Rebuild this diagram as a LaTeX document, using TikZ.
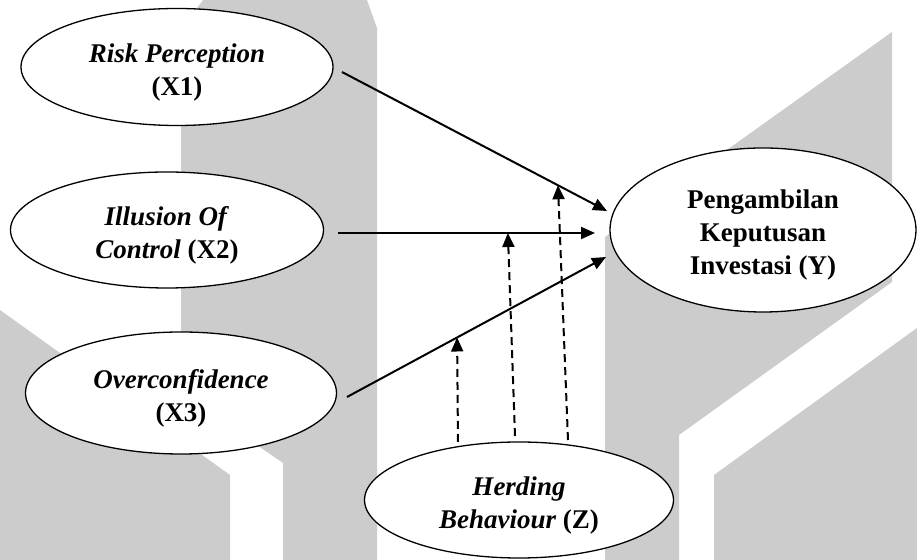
\documentclass[tikz,border=0pt]{standalone}
\usepackage{fontspec}
\setmainfont{Liberation Serif}
\usetikzlibrary{arrows.meta,shapes.geometric}
\definecolor{wmgray}{HTML}{CCCCCC}
\newcommand{\lift}{\rule{0pt}{14.5pt}}
\tikzset{fig/.style={line join=round,>={Triangle[length=7pt,width=6pt]}},
  latent/.style={ellipse,draw,fill=white,line width=0.65pt,inner sep=0pt,align=center,
    font=\fontsize{13.5}{16.5}\selectfont\bfseries},
  link/.style={->,line width=1pt},
  moder/.style={->,line width=1pt,dash pattern=on 4pt off 2.5pt}}

\begin{document}
\begin{tikzpicture}[fig,x=0.5pt,y=-0.5pt]
  \useasboundingbox (0,0) rectangle (917,560);
  % watermark in the background
  \fill[wmgray] (203,0)--(367,0)--(377,28)--(377,560)--(283,560)--(283,463)--(181,393)--(181,30)--cycle;
  \fill[wmgray] (0,310)--(230,475)--(230,560)--(0,560)--cycle;
  \fill[wmgray] (605,237)--(892,32)--(892,282)--(679,435)--(679,560)--(605,560)--cycle;
  \fill[wmgray] (714,475)--(917,328)--(917,560)--(714,560)--cycle;
  % variables
  \node[latent,minimum width=156pt,minimum height=58.5pt] (x1) at (177,67) {\lift\textit{Risk Perception}\\(X1)};
  \node[latent,minimum width=156.5pt,minimum height=58pt] (x2) at (167,230) {\lift\textit{Illusion Of}\\\textit{Control} (X2)};
  \node[latent,minimum width=155.5pt,minimum height=61pt] (x3) at (181,393) {\lift\textit{Overconfidence}\\(X3)};
  \node[latent,minimum width=153pt,minimum height=82pt] (y) at (763,230) {\lift Pengambilan\\Keputusan\\Investasi (Y)};
  \node[latent,minimum width=154.5pt,minimum height=58pt] (z) at (519,500) {\lift\textit{Herding}\\\textit{Behaviour} (Z)};
  % direct paths
  \coordinate (s1) at (342,72);  \coordinate (t1) at (607,211);
  \coordinate (s2) at (338,233); \coordinate (t2) at (595,233);
  \coordinate (s3) at (347,397); \coordinate (t3) at (606,257);
  \draw[link] (s1) -- coordinate[pos=0.815] (m1) (t1);
  \draw[link] (s2) -- coordinate[pos=0.661] (m2) (t2);
  \draw[link] (s3) -- coordinate[pos=0.425] (m3) (t3);
  % moderation
  \coordinate (b1) at (458,442);
  \coordinate (b2) at (515,436);
  \coordinate (b3) at (568,440);
  \draw[moder] (b1) -- (m3);
  \draw[moder] (b2) -- (m2);
  \draw[moder] (b3) -- (m1);
\end{tikzpicture}
\end{document}
